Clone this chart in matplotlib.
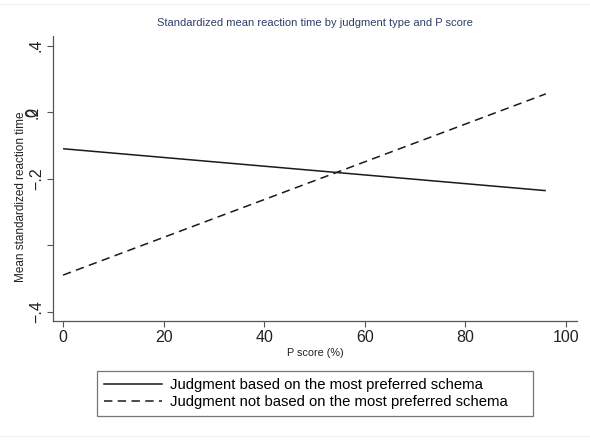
import matplotlib
matplotlib.use('Agg')
import matplotlib.pyplot as plt
from matplotlib.lines import Line2D

# data
p_score = [0, 96]
rt_preferred = [0.090, -0.036]
rt_not_preferred = [-0.290, 0.255]

x_ticks = [0, 20, 40, 60, 80, 100]
y_ticks = [-0.4, -0.2, 0.0, 0.2, 0.4]
y_tick_labels = ['\u2212.4', '', '\u2212.2', '', '.4']

plt.rcParams['font.family'] = ['Liberation Sans', 'DejaVu Sans']

fig = plt.figure(figsize=(5.9, 4.42), dpi=100)
ax = fig.add_axes([53 / 590, 1 - 321 / 442, 524 / 590, 285 / 442])

ax.plot(p_score, rt_preferred, color='#1a1a1a', lw=1.1, solid_capstyle='butt')
ax.plot(p_score, rt_not_preferred, color='#1a1a1a', lw=1.1, dashes=(5.5, 3.5))

ax.set_xlim(-2, 102.2)
ax.set_ylim(-0.428, 0.429)
ax.set_xticks(x_ticks)
ax.set_yticks(y_ticks)
ax.set_yticklabels(y_tick_labels, rotation=90, va='center', fontsize=11.5)
ax.tick_params(axis='y', pad=2.5, length=4, colors='#555555', labelcolor='#222222')
ax.tick_params(axis='x', labelsize=11.5, pad=2.5, length=4, colors='#555555',
               labelcolor='#222222')

# garbled overlapping labels at the second tick in the original
for s in ['0', '.2']:
    ax.annotate(s, xy=(0, 0.2), xycoords=ax.get_yaxis_transform(),
                xytext=(-20, 0), textcoords='offset pixels', rotation=90,
                ha='center', va='center', fontsize=11.5, color='#222222')

for side in ['top', 'right']:
    ax.spines[side].set_visible(False)
for side in ['left', 'bottom']:
    ax.spines[side].set_color('#555555')
    ax.spines[side].set_linewidth(0.9)

ax.set_xlabel('P score (%)', fontsize=7.8, labelpad=2, color='#222222')
ax.set_ylabel('Mean standardized reaction time', fontsize=8.5, color='#222222')
ax.yaxis.set_label_coords(-26 / 524, 0.435)
ax.set_title('Standardized mean reaction time by judgment type and P score',
             fontsize=8, color='#2e3f66', pad=7)

handles = [Line2D([], [], color='#1a1a1a', lw=1.1),
           Line2D([], [], color='#1a1a1a', lw=1.1, dashes=(5.5, 3.5))]
labels = ['Judgment based on the most preferred schema',
          'Judgment not based on the most preferred schema']
leg = fig.legend(handles, labels, loc='lower left',
                 bbox_to_anchor=(97 / 590, 1 - 416 / 442, 436 / 590, 49 / 442),
                 mode='expand', fontsize=10.7, frameon=True, fancybox=False,
                 handlelength=3.9, handletextpad=0.55, borderaxespad=0,
                 labelspacing=0.22, borderpad=0.45)
leg.get_frame().set_edgecolor('#555555')
leg.get_frame().set_linewidth(0.9)

# faint frame lines of the graph region
fig.add_artist(Line2D([0, 1], [1 - 4 / 442] * 2, color='#eeeeee', lw=0.8))
fig.add_artist(Line2D([0, 1], [1 - 436 / 442] * 2, color='#eeeeee', lw=0.8))

fig.savefig('out.png', dpi=100)
